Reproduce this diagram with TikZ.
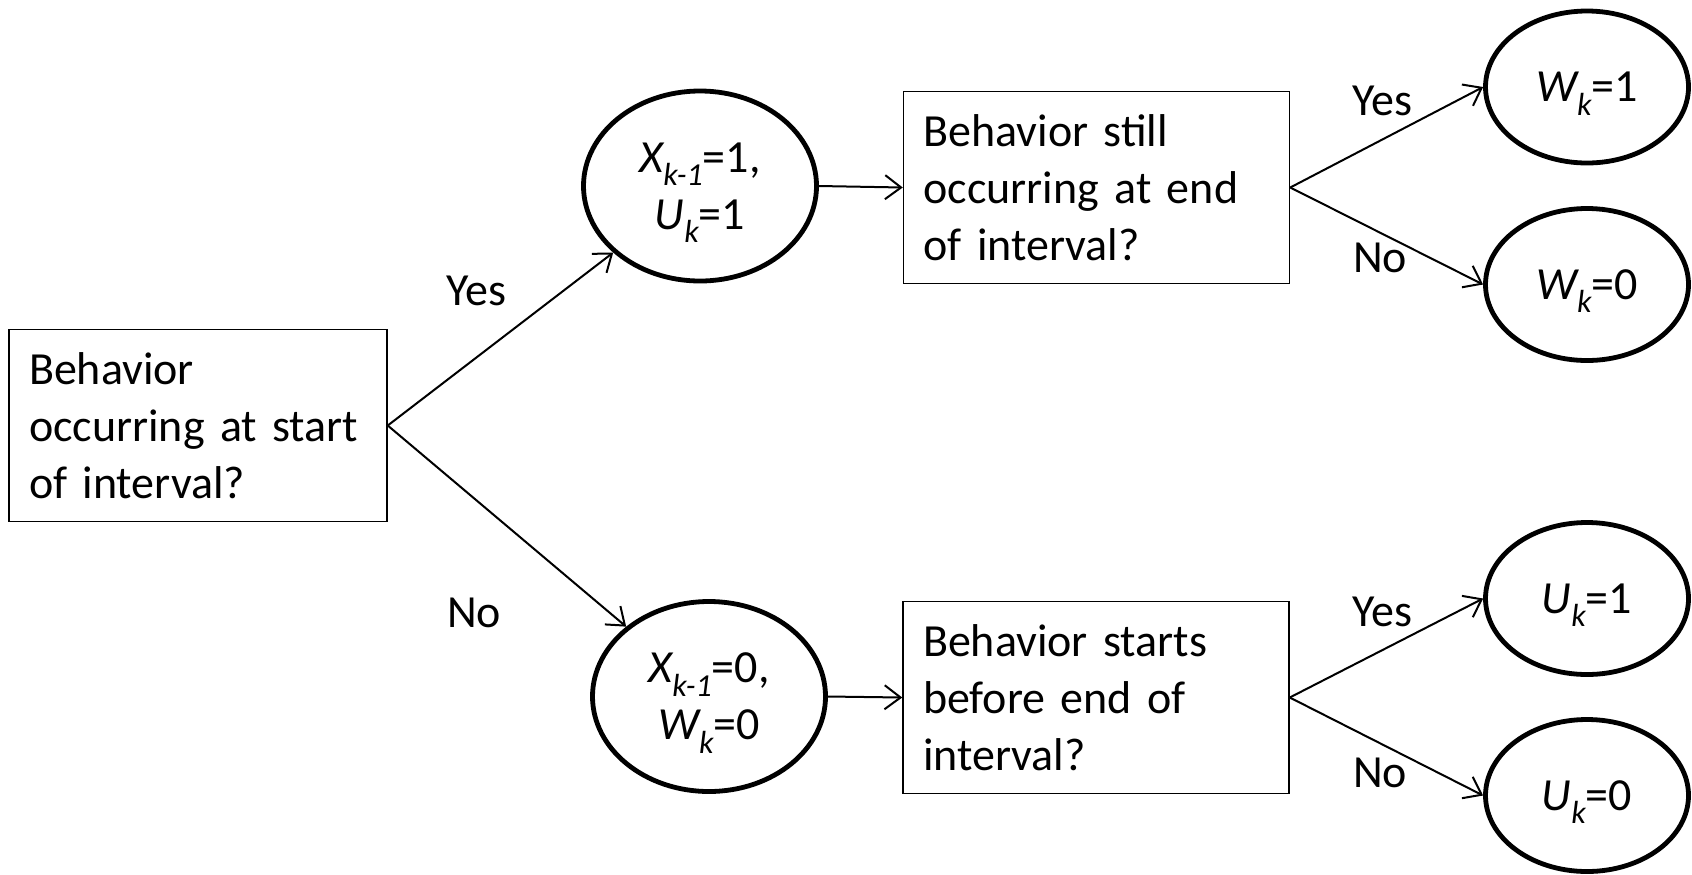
\documentclass[tikz,border=0pt]{standalone}
\usepackage{fontspec}
\setmainfont{Carlito}
\usetikzlibrary{arrows.meta,shapes.geometric}

\newcommand{\lowsub}[1]{\smash{\raisebox{-6.7pt}{\fontsize{16}{16}\selectfont\itshape #1}}}

\begin{document}
\begin{tikzpicture}[x=0.5pt, y=-0.5pt, >={Straight Barb[length=8pt,width=12pt]},
    every node/.style={font=\fontsize{23}{28.5}\selectfont},
    question/.style={draw, line width=0.75pt, align=left, inner xsep=10pt, minimum height=96pt},
    state/.style={ellipse, draw, line width=2.4pt, align=center, inner sep=0pt, minimum width=116.5pt, minimum height=95pt},
    outcome/.style={state, minimum width=101.5pt, minimum height=76pt},
    branch/.style={->, line width=1pt}]
    \useasboundingbox (0,0) rectangle (1692,874);

    % First question
    \node[question, text width=169pt] (start) at (198,425.5) {Behavior\\occurring at start\\of interval?};

    % States after the first question
    \node[state] (xone) at (700,186) {{\itshape X}\lowsub{k-1}=1,\\{\itshape U}\lowsub{k}=1};
    \node[state] (xzero) at (709,696.5) {{\itshape X}\lowsub{k-1}=0,\\{\itshape W}\lowsub{k}=0};

    % Second questions
    \node[question, text width=173pt] (askend) at (1096.5,187.5) {Behavior still\\occurring at end\\of interval?};
    \node[question, text width=173pt] (askstart) at (1096,697.5) {Behavior starts\\before end of\\interval?};

    % Outcomes
    \node[outcome] (wone) at (1587,87) {{\itshape W}\lowsub{k}=1};
    \node[outcome] (wzero) at (1587,284.5) {{\itshape W}\lowsub{k}=0};
    \node[outcome] (uone) at (1587,598.5) {{\itshape U}\lowsub{k}=1};
    \node[outcome] (uzero) at (1587,795.5) {{\itshape U}\lowsub{k}=0};

    % Arrows
    \draw[branch] (start.east) -- (xone);
    \draw[branch] (start.east) -- (xzero);
    \draw[branch] (xone.east) -- (askend.west);
    \draw[branch] (xzero.east) -- (askstart.west);
    \draw[branch] (askend.east) -- (wone.west);
    \draw[branch] (askend.east) -- (wzero.west);
    \draw[branch] (askstart.east) -- (uone.west);
    \draw[branch] (askstart.east) -- (uzero.west);

    % Labels
    \node (yesstart) at (476,291) {Yes};
    \node (nostart) at (474,613) {No};
    \node (yesend) at (1382,100.5) {Yes};
    \node (noend) at (1380,258) {No};
    \node (yesbegin) at (1382,612) {Yes};
    \node (nobegin) at (1380,773) {No};
\end{tikzpicture}
\end{document}
